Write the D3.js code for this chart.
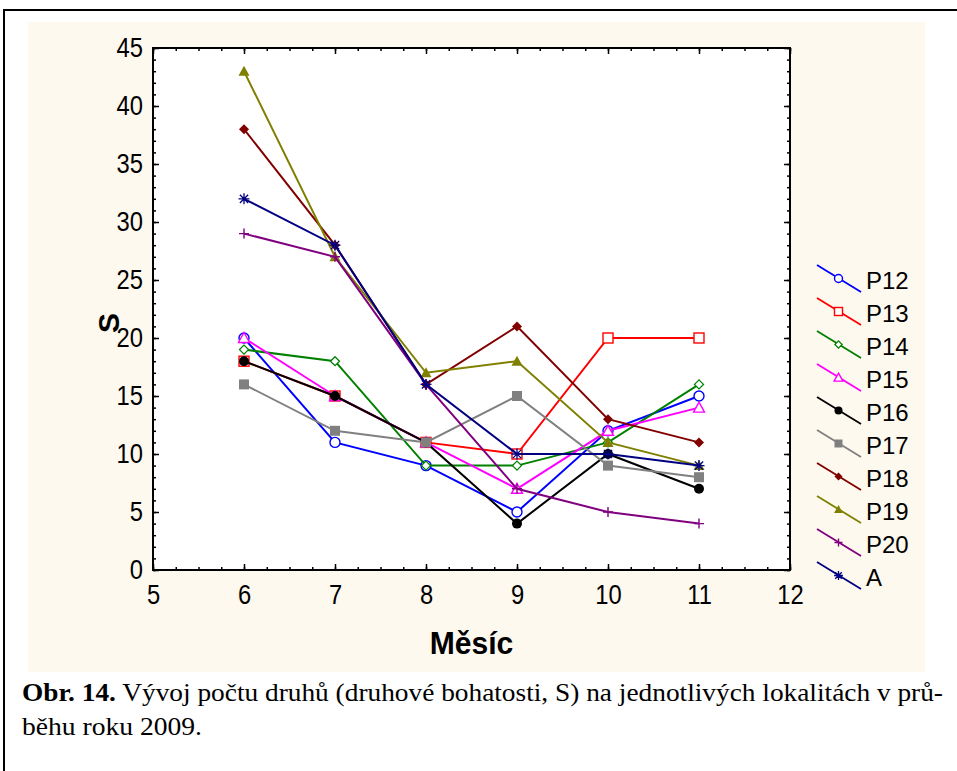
<!DOCTYPE html>
<html>
<head>
<meta charset="utf-8">
<script src="https://cdn.jsdelivr.net/npm/d3@7"></script>
<style>
  html, body { margin: 0; padding: 0; background: #ffffff; }
  svg { display: block; }
</style>
</head>
<body>
<svg id="chart" width="957" height="771"></svg>
<script>
// Months on the x axis and species richness (S) per locality
const months = [6, 7, 8, 9, 10, 11];
const P12 = [20, 11, 9, 5, 12, 15];
const P13 = [18, 15, 11, 10, 20, 20];
const P14 = [19, 18, 9, 9, 11, 16];
const P15 = [20, 15, 11, 7, 12, 14];
const P16 = [18, 15, 11, 4, 10, 7];
const P17 = [16, 12, 11, 15, 9, 8];
const P18 = [38, 28, 16, 21, 13, 11];
const P19 = [43, 27, 17, 18, 11, 9];
const P20 = [29, 27, 16, 7, 5, 4];
const A   = [32, 28, 16, 10, 10, 9];

const seriesNames = ["P12", "P13", "P14", "P15", "P16", "P17", "P18", "P19", "P20", "A"];
const seriesValues = [P12, P13, P14, P15, P16, P17, P18, P19, P20, A];
const seriesColors = ["#0000ff", "#ff0000", "#008000", "#ff00ff", "#000000",
                      "#808080", "#800000", "#808000", "#800080", "#000080"];
const seriesMarkers = ["circleOpen", "squareOpen", "diamondOpen", "triangleOpen", "circle",
                       "square", "diamond", "triangle", "plus", "asterisk"];

const xTicks = [5, 6, 7, 8, 9, 10, 11, 12];
const yTicks = [0, 5, 10, 15, 20, 25, 30, 35, 40, 45];

const svg = d3.select("#chart");

// Outer figure frame and cream chart panel
svg.append("rect").attr("x", 4).attr("y", 10).attr("width", 970).attr("height", 800)
  .attr("fill", "#ffffff").attr("stroke", "#000").attr("stroke-width", 2);
svg.append("rect").attr("x", 28).attr("y", 22).attr("width", 897).attr("height", 650)
  .attr("fill", "#fef9ee");

const plot = { left: 153, right: 790, top: 48, bottom: 570 };
const x = d3.scaleLinear().domain([5, 12]).range([plot.left, plot.right]);
const y = d3.scaleLinear().domain([0, 45]).range([plot.bottom, plot.top]);

svg.append("rect").attr("x", plot.left).attr("y", plot.top)
  .attr("width", plot.right - plot.left).attr("height", plot.bottom - plot.top)
  .attr("fill", "#ffffff");

const sansFont = "'Liberation Sans', Arial, sans-serif";
const narrow = 0.88;  // horizontal condensing of the tick label glyphs

// Axes: inward ticks on all four sides, minor ticks between majors
function styleAxis(g) {
  g.select(".domain").remove();
  g.selectAll(".tick line").attr("stroke", "#000").attr("stroke-width", 1.5);
  g.selectAll(".tick text").attr("font-family", sansFont).attr("font-size", 27).attr("fill", "#000")
    .attr("transform", `scale(${narrow},1)`);
}
const xMinor = d3.range(5, 12.001, 0.25);
const yMinor = d3.range(0, 45.001, 1);

svg.append("g").attr("transform", `translate(0,${plot.bottom})`)
  .call(d3.axisBottom(x).tickValues(xMinor).tickSize(-3).tickFormat("")).call(styleAxis);
svg.append("g").attr("transform", `translate(0,${plot.bottom})`)
  .call(d3.axisBottom(x).tickValues(xTicks).tickSizeInner(-6).tickPadding(15).tickFormat(d3.format("d")))
  .call(styleAxis)
  .call(g => g.selectAll(".tick text").attr("x", d => 0).attr("dy", "0.71em"));
svg.append("g").attr("transform", `translate(0,${plot.top})`)
  .call(d3.axisTop(x).tickValues(xMinor).tickSize(-3).tickFormat("")).call(styleAxis);
svg.append("g").attr("transform", `translate(0,${plot.top})`)
  .call(d3.axisTop(x).tickValues(xTicks).tickSize(-6).tickFormat("")).call(styleAxis);

svg.append("g").attr("transform", `translate(${plot.left},0)`)
  .call(d3.axisLeft(y).tickValues(yMinor).tickSize(-3).tickFormat("")).call(styleAxis);
svg.append("g").attr("transform", `translate(${plot.left},0)`)
  .call(d3.axisLeft(y).tickValues(yTicks).tickSizeInner(-6).tickFormat(d3.format("d")))
  .call(styleAxis)
  .call(g => g.selectAll(".tick text").attr("x", -10 / narrow).attr("dy", "0.3em"));
svg.append("g").attr("transform", `translate(${plot.right},0)`)
  .call(d3.axisRight(y).tickValues(yMinor).tickSize(-3).tickFormat("")).call(styleAxis);
svg.append("g").attr("transform", `translate(${plot.right},0)`)
  .call(d3.axisRight(y).tickValues(yTicks).tickSize(-6).tickFormat("")).call(styleAxis);

// Plot frame
svg.append("rect").attr("x", plot.left).attr("y", plot.top)
  .attr("width", plot.right - plot.left).attr("height", plot.bottom - plot.top)
  .attr("fill", "none").attr("stroke", "#000").attr("stroke-width", 2);

// Marker drawing
function drawMarker(g, type, color, cx, cy, scale) {
  const s = scale || 1;
  switch (type) {
    case "circleOpen":
      g.append("circle").attr("cx", cx).attr("cy", cy).attr("r", 5 * s)
        .attr("fill", "#fff").attr("stroke", color).attr("stroke-width", 1.4);
      break;
    case "squareOpen":
      g.append("rect").attr("x", cx - 5 * s).attr("y", cy - 5 * s).attr("width", 10 * s).attr("height", 10 * s)
        .attr("fill", "#fff").attr("stroke", color).attr("stroke-width", 1.4);
      break;
    case "diamondOpen":
      g.append("path").attr("d", `M${cx},${cy - 4.5 * s}L${cx + 4.5 * s},${cy}L${cx},${cy + 4.5 * s}L${cx - 4.5 * s},${cy}Z`)
        .attr("fill", "#fff").attr("stroke", color).attr("stroke-width", 1.3);
      break;
    case "triangleOpen":
      g.append("path").attr("d", `M${cx},${cy - 5.5 * s}L${cx + 5.5 * s},${cy + 4.5 * s}L${cx - 5.5 * s},${cy + 4.5 * s}Z`)
        .attr("fill", "#fff").attr("stroke", color).attr("stroke-width", 1.4);
      break;
    case "circle":
      g.append("circle").attr("cx", cx).attr("cy", cy).attr("r", 5 * s).attr("fill", color);
      break;
    case "square":
      g.append("rect").attr("x", cx - 5 * s).attr("y", cy - 5 * s).attr("width", 10 * s).attr("height", 10 * s)
        .attr("fill", color);
      break;
    case "diamond":
      g.append("path").attr("d", `M${cx},${cy - 5 * s}L${cx + 5 * s},${cy}L${cx},${cy + 5 * s}L${cx - 5 * s},${cy}Z`)
        .attr("fill", color);
      break;
    case "triangle":
      g.append("path").attr("d", `M${cx},${cy - 5.5 * s}L${cx + 5.5 * s},${cy + 4.5 * s}L${cx - 5.5 * s},${cy + 4.5 * s}Z`)
        .attr("fill", color);
      break;
    case "plus":
      g.append("path").attr("d", `M${cx - 5 * s},${cy}H${cx + 5 * s}M${cx},${cy - 5 * s}V${cy + 5 * s}`)
        .attr("stroke", color).attr("stroke-width", 1.4).attr("fill", "none");
      break;
    case "asterisk": {
      const r = 5.5 * s, d = r * 0.75;
      g.append("path").attr("d",
        `M${cx - r},${cy}H${cx + r}M${cx},${cy - r}V${cy + r}M${cx - d},${cy - d}L${cx + d},${cy + d}M${cx - d},${cy + d}L${cx + d},${cy - d}`)
        .attr("stroke", color).attr("stroke-width", 1.3).attr("fill", "none");
      break;
    }
  }
}

// Series lines with markers
const line = d3.line().x(d => x(d[0])).y(d => y(d[1]));
seriesValues.forEach((vals, i) => {
  const g = svg.append("g");
  const pts = months.map((m, j) => [m, vals[j]]);
  g.append("path").attr("d", line(pts)).attr("fill", "none")
    .attr("stroke", seriesColors[i]).attr("stroke-width", 2);
  pts.forEach(p => drawMarker(g, seriesMarkers[i], seriesColors[i], x(p[0]), y(p[1])));
});

// Legend
const legend = svg.append("g");
seriesNames.forEach((name, i) => {
  const cy = 280 + i * 33;
  legend.append("line").attr("x1", 817).attr("y1", cy - 15).attr("x2", 861).attr("y2", cy + 12)
    .attr("stroke", seriesColors[i]).attr("stroke-width", 1.8);
  drawMarker(legend, seriesMarkers[i], seriesColors[i], 838.5, cy - 1.5, 0.8);
  legend.append("text").attr("x", 866).attr("y", cy + 8.5)
    .attr("font-family", sansFont).attr("font-size", 24).attr("fill", "#000").text(name);
});

// Axis titles
svg.append("text").attr("transform", `translate(119,323) rotate(-90)`)
  .attr("text-anchor", "middle").attr("font-family", sansFont).attr("font-weight", "bold")
  .attr("font-size", 30).attr("fill", "#000").text("S");
svg.append("text").attr("transform", `translate(${(plot.left + plot.right) / 2},654) scale(0.94,1)`)
  .attr("text-anchor", "middle").attr("font-family", sansFont).attr("font-weight", "bold")
  .attr("font-size", 32).attr("fill", "#000").text("Měsíc");

// Figure caption
const serif = "'Liberation Serif', 'Times New Roman', serif";
const cap1 = svg.append("text").attr("x", 22).attr("y", 701)
  .attr("font-family", serif).attr("font-size", 25).attr("fill", "#000")
  .attr("textLength", 921).attr("lengthAdjust", "spacingAndGlyphs");
cap1.append("tspan").attr("font-weight", "bold").text("Obr. 14.");
cap1.append("tspan").text(" Vývoj počtu druhů (druhové bohatosti, S) na jednotlivých lokalitách v prů-");
svg.append("text").attr("x", 22).attr("y", 735)
  .attr("font-family", serif).attr("font-size", 25).attr("fill", "#000")
  .attr("textLength", 180).attr("lengthAdjust", "spacingAndGlyphs").text("běhu roku 2009.");
</script>
</body>
</html>
